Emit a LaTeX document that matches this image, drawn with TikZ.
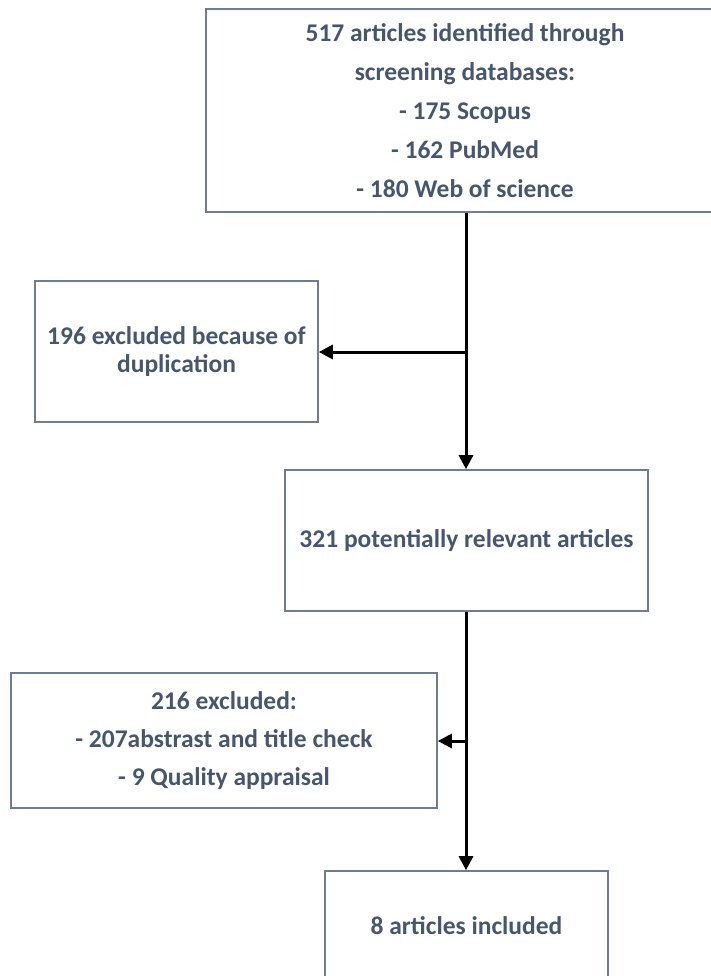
\documentclass[tikz,border=0pt]{standalone}
\usepackage{fontspec}
\setmainfont{Carlito}
\usetikzlibrary{arrows.meta}
\definecolor{txt}{HTML}{46566F}
\definecolor{edge}{HTML}{6E7D91}
\tikzset{
  box/.style={draw=edge, line width=1.6pt, text=txt, align=center, inner sep=0pt, font=\bfseries\fontsize{25.5}{39}\selectfont},
  link/.style={draw=black, line width=3pt},
  arr/.style={link, -{Triangle[length=14pt,width=14pt]}},
}
\begin{document}
\begin{tikzpicture}[x=1pt,y=-1pt]
\useasboundingbox (0,0) rectangle (711,976);
\clip (0,0) rectangle (711,976);
\node[box, minimum width=518pt, minimum height=203pt] (top) at (465,110.5)
  {517 articles identified through\\screening databases:\\- 175 Scopus\\- 162 PubMed\\- 180 Web of science};
\node[box, minimum width=283pt, minimum height=141pt, font=\bfseries\fontsize{25.5}{28.5}\selectfont] (dup) at (176.5,351.5)
  {196 excluded because of\\duplication};
\node[box, minimum width=363pt, minimum height=141pt] (rel) at (466.5,540.5)
  {321 potentially relevant articles};
\node[box, minimum width=426pt, minimum height=135pt, font=\bfseries\fontsize{25.5}{38}\selectfont] (exc) at (224,740.5)
  {216 excluded:\\- 207abstrast and title check\\- 9 Quality appraisal};
\node[box, minimum width=283pt, minimum height=110pt] (inc) at (466.5,926)
  {8 articles included};
\coordinate (j1) at (466,352);
\coordinate (j2) at (466,741);
\draw[link] (top.south -| j1) -- (j1);
\draw[arr] (j1) -- (dup.east |- j1);
\draw[arr] (j1) -- (j1 |- rel.north);
\draw[link] (rel.south -| j2) -- (j2);
\draw[arr] (j2) -- (exc.east |- j2);
\draw[arr] (j2) -- (j2 |- inc.north);
\end{tikzpicture}
\end{document}
